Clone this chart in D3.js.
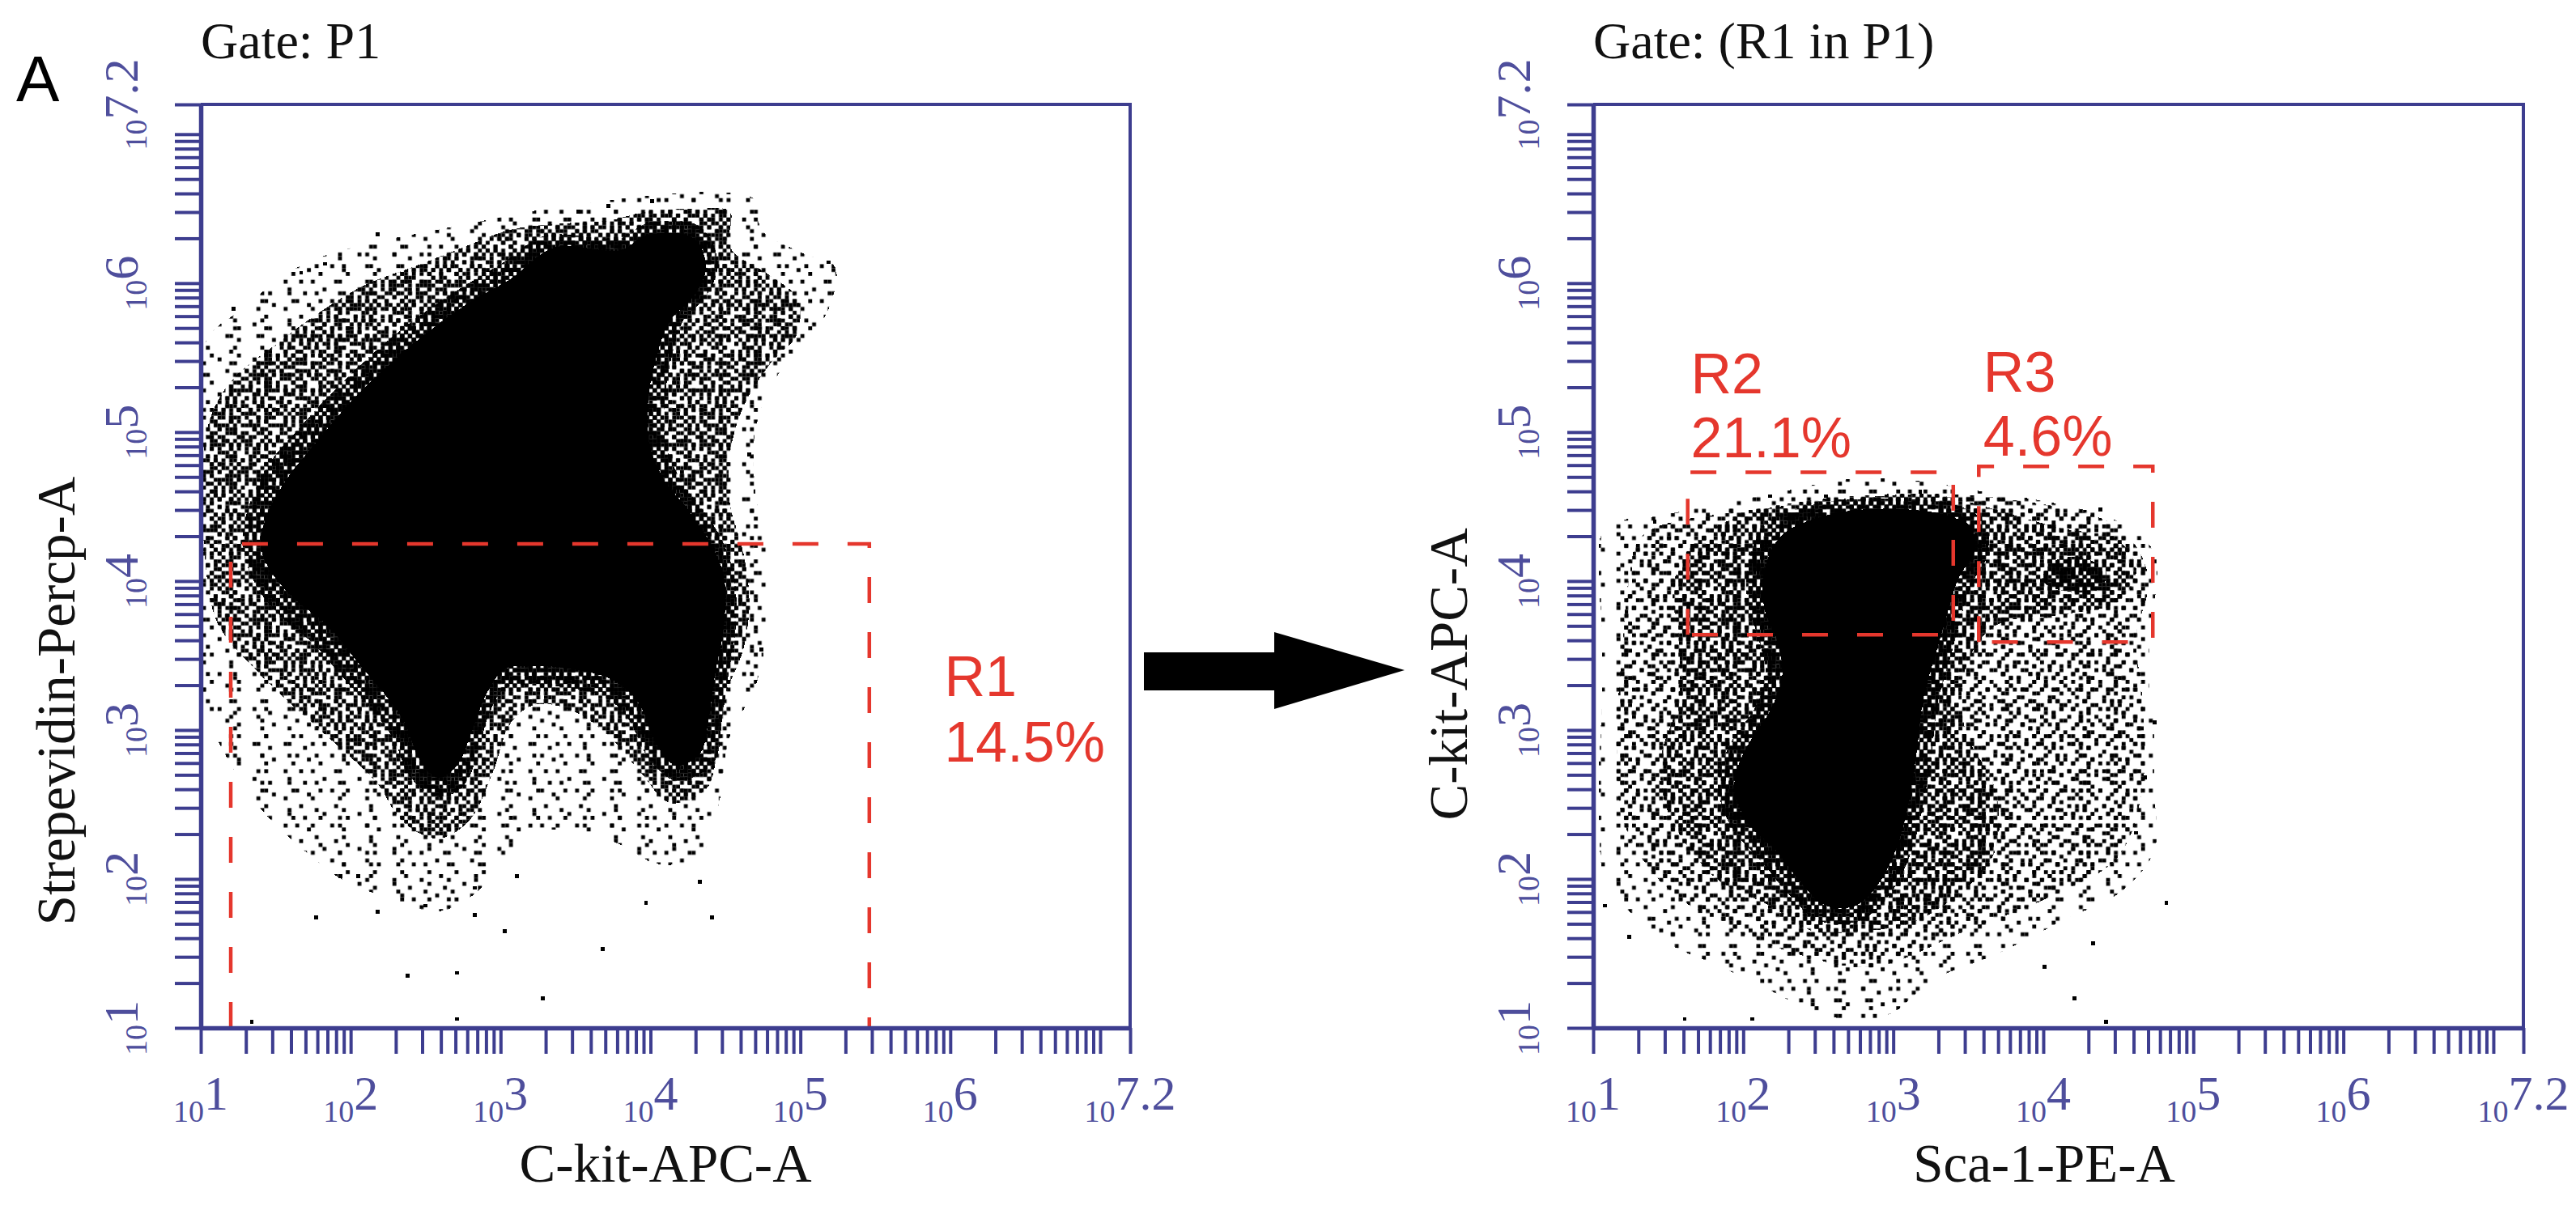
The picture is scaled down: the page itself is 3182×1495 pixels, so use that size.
<!DOCTYPE html>
<html>
<head>
<meta charset="utf-8">
<script src="https://cdn.jsdelivr.net/npm/d3@7"></script>
<style>
  body { margin: 0; background: #fff; }
  svg { display: block; }
</style>
</head>
<body>
<svg id="fig" width="3182" height="1495"></svg>
<script>
// all values are log10 of the fluorescence channel (axis runs 10^1 .. 10^7.2)
const axisDomain = [1, 7.2];
const decadeExps = [1, 2, 3, 4, 5, 6, 7.2];
const decadeText = ["1", "2", "3", "4", "5", "6", "7.2"];

// --- panel 1: C-kit-APC-A vs Strepevidin-Percp-A (gate P1) ---
const kitStrepSparse = [[1.02,5.58],[1.28,5.83],[1.65,6.11],[2.01,6.24],[2.38,6.32],[2.79,6.40],[3.19,6.48],[3.60,6.54],[4.01,6.59],[4.45,6.61],[4.70,6.56],[4.74,6.36],[5.02,6.20],[5.23,6.11],[5.19,5.83],[5.02,5.58],[4.82,5.34],[4.70,5.01],[4.70,4.60],[4.78,4.19],[4.78,3.70],[4.70,3.29],[4.53,2.96],[4.45,2.47],[4.33,2.15],[4.05,2.10],[3.80,2.23],[3.56,2.31],[3.23,2.31],[2.99,2.10],[2.83,1.90],[2.58,1.78],[2.30,1.86],[1.97,1.98],[1.69,2.19],[1.40,2.47],[1.16,2.84],[1.02,3.21]];
const kitStrepMedium = [[1.04,5.01],[1.20,5.34],[1.49,5.58],[1.77,5.79],[2.10,5.99],[2.42,6.11],[2.75,6.24],[3.07,6.36],[3.40,6.40],[3.72,6.42],[3.97,6.48],[4.29,6.50],[4.53,6.48],[4.53,6.24],[4.80,6.05],[4.98,5.90],[4.98,5.66],[4.80,5.46],[4.62,5.17],[4.53,4.85],[4.53,4.52],[4.62,4.19],[4.66,3.86],[4.62,3.54],[4.49,3.21],[4.45,2.88],[4.37,2.60],[4.13,2.51],[3.93,2.72],[3.72,2.96],[3.48,3.13],[3.23,3.17],[3.07,3.05],[2.95,2.72],[2.79,2.39],[2.58,2.27],[2.34,2.39],[2.18,2.64],[1.93,2.88],[1.65,3.13],[1.36,3.41],[1.12,3.70],[1.04,4.03]];
const kitStrepDense = [[3.30,6.32],[3.80,6.30],[3.97,6.40],[4.33,6.38],[4.45,6.13],[4.37,5.91],[4.22,5.75],[4.15,5.54],[4.10,5.26],[4.10,4.93],[4.20,4.68],[4.35,4.48],[4.48,4.27],[4.56,4.03],[4.57,3.70],[4.52,3.37],[4.48,3.09],[4.42,2.78],[4.17,2.66],[3.98,2.82],[3.85,3.08],[3.70,3.22],[3.48,3.28],[3.23,3.30],[3.03,3.28],[2.92,3.10],[2.85,2.85],[2.75,2.62],[2.58,2.55],[2.40,2.68],[2.28,2.95],[2.13,3.15],[1.95,3.35],[1.75,3.58],[1.55,3.75],[1.38,3.95],[1.28,4.23],[1.32,4.50],[1.45,4.78],[1.66,5.03],[1.88,5.27],[2.14,5.52],[2.43,5.76],[2.74,5.97],[3.02,6.14]];
const kitStrepSolid = [[3.36,6.24],[3.80,6.22],[3.97,6.32],[4.29,6.30],[4.37,6.11],[4.29,5.91],[4.13,5.75],[4.05,5.54],[3.99,5.26],[3.99,4.93],[4.09,4.68],[4.25,4.48],[4.39,4.27],[4.49,4.03],[4.49,3.70],[4.43,3.37],[4.39,3.09],[4.33,2.84],[4.17,2.76],[4.03,2.92],[3.93,3.17],[3.76,3.33],[3.48,3.41],[3.23,3.43],[3.03,3.41],[2.91,3.25],[2.81,3.00],[2.71,2.76],[2.58,2.68],[2.46,2.80],[2.36,3.05],[2.22,3.25],[2.05,3.45],[1.85,3.70],[1.65,3.86],[1.49,4.03],[1.40,4.23],[1.44,4.44],[1.57,4.68],[1.77,4.93],[1.97,5.17],[2.22,5.42],[2.50,5.66],[2.79,5.87],[3.07,6.03]];
const kitStrepSingles = [[2.18,6.33],[3.72,6.52],[4.01,6.55],[3.52,6.48],[5.19,6.14],[4.66,4.85],[4.74,3.54],[1.77,1.74],[1.93,2.02],[2.05,2.02],[2.38,1.35],[2.71,1.37],[2.71,1.06],[3.28,1.20],[3.03,1.65],[2.83,1.76],[3.68,1.53],[4.41,1.74],[3.97,1.84],[4.33,1.98],[1.34,1.04],[1.67,6.07],[1.83,6.13],[1.22,5.83],[3.11,2.02],[2.50,1.82],[2.18,1.78],[2.83,1.94]];
const gateR1 = [1.20, 5.46, 1.00, 4.25];   // x from, x to, y from, y to

// --- panel 2: Sca-1-PE-A vs C-kit-APC-A (R1 in P1) ---
const scaKitSparse = [[1.08,4.36],[1.45,4.44],[1.85,4.52],[2.26,4.60],[2.67,4.68],[3.11,4.68],[3.60,4.60],[4.09,4.52],[4.50,4.40],[4.74,4.19],[4.74,3.82],[4.70,3.41],[4.74,3.00],[4.74,2.60],[4.74,2.19],[4.50,1.90],[4.17,1.74],[3.68,1.49],[3.28,1.33],[2.95,1.08],[2.55,1.08],[2.18,1.25],[1.85,1.41],[1.49,1.57],[1.24,1.78],[1.08,1.98],[1.04,2.39],[1.04,2.80],[1.06,3.21],[1.06,3.62],[1.04,4.03]];
const scaKitLight = [[1.33,4.31],[2.06,4.48],[2.87,4.58],[3.68,4.56],[4.50,4.36],[4.70,4.03],[4.62,3.62],[4.66,3.21],[4.66,2.60],[4.50,2.15],[4.09,1.90],[3.48,1.65],[2.87,1.41],[2.38,1.49],[1.85,1.70],[1.45,1.98],[1.20,2.39],[1.16,3.00],[1.20,3.62],[1.24,4.03]];
const scaKitMedium = [[1.65,4.23],[1.98,4.44],[2.38,4.52],[2.79,4.56],[3.28,4.58],[3.68,4.48],[4.09,4.36],[4.50,4.27],[4.62,4.07],[4.50,3.86],[4.17,3.78],[3.68,3.70],[3.48,3.41],[3.48,3.00],[3.68,2.60],[3.68,2.19],[3.44,1.90],[3.11,1.70],[2.79,1.65],[2.46,1.65],[2.18,1.82],[1.85,1.98],[1.65,2.19],[1.49,2.47],[1.45,2.80],[1.57,3.21],[1.57,3.62],[1.53,3.95]];
const scaKitDenseR3 = [[4.05,4.12],[4.25,4.16],[4.42,4.06],[4.38,3.95],[4.15,3.93],[4.00,4.00]];
const scaKitDenseCore = [[2.15,4.38],[2.50,4.52],[3.11,4.55],[3.45,4.50],[3.62,4.38],[3.62,4.15],[3.52,3.98],[3.45,3.75],[3.38,3.48],[3.30,3.20],[3.26,2.88],[3.21,2.55],[3.12,2.18],[2.98,1.90],[2.78,1.72],[2.50,1.72],[2.30,1.90],[2.12,2.12],[1.92,2.35],[1.83,2.64],[1.92,2.92],[2.08,3.15],[2.15,3.37],[2.10,3.62],[2.03,3.85],[2.03,4.10]];
const scaKitSolid = [[2.26,4.31],[2.55,4.44],[2.79,4.48],[3.11,4.48],[3.36,4.44],[3.52,4.36],[3.54,4.19],[3.44,4.03],[3.36,3.78],[3.28,3.50],[3.20,3.21],[3.16,2.88],[3.11,2.55],[3.03,2.23],[2.91,1.98],[2.75,1.82],[2.55,1.82],[2.38,1.98],[2.22,2.19],[2.02,2.39],[1.94,2.64],[2.02,2.88],[2.18,3.13],[2.26,3.37],[2.22,3.62],[2.14,3.82],[2.14,4.07]];
const scaKitSingles = [[4.82,1.84],[4.42,1.04],[1.61,1.06],[1.24,1.61],[1.08,1.82],[4.21,1.20],[2.06,1.06],[4.33,1.57],[4.01,1.41],[1.41,4.40],[2.18,4.57],[3.18,4.60],[2.55,4.57],[4.38,4.48],[4.74,3.05],[4.68,2.68],[4.62,2.31]];
const gateR2 = [1.63, 3.40, 3.64, 4.73];
const gateR3 = [3.57, 4.73, 3.59, 4.77];

const gateNames = ["R1", "R2", "R3"];
const gatePercents = ["14.5%", "21.1%", "4.6%"];
// where each gate caption sits: [x, first line y, second line y] in axis units
const gateCaptionAt = [[5.96, 3.23, 2.79], [1.65, 5.26, 4.83], [3.60, 5.27, 4.84]];

// ---------------- drawing ----------------
const TOP = 129, BOTTOM = 1270;
const AXIS = "#3d3d8f", AXIS_TEXT = "#4e4e9c", RED = "#e5372d";
const SERIF = "'Liberation Serif', 'Times New Roman', serif";
const SANS = "'Liberation Sans', Arial, sans-serif";
const CELL = 4.8;   // one display channel of the cytometer plot

const svg = d3.select("#fig");
const defs = svg.append("defs");

// speckle fills: two dither tiles of different period, layered so the repeat is hard to see
const tileA = [23,7,41,15,33,2,28, 36,12,30,45,20,39,10, 4,47,18,1,26,14,44, 29,21,38,11,48,6,34, 9,43,3,32,16,40,19, 46,25,13,42,0,27,37, 17,35,31,8,24,22,5];
const tileB = [40,12,67,25,79,3,52,31,60, 71,20,48,6,35,63,16,75,9, 28,56,1,74,44,22,69,41,55, 14,80,33,59,11,50,4,27,66, 61,37,19,26,68,30,77,45,18, 5,72,46,78,2,57,13,64,34, 49,24,62,10,39,21,42,0,73, 17,65,8,53,70,15,58,29,47, 76,32,43,23,38,54,7,51,36];
const levels = { sparse: [3, 5], light: [8, 13], medium: [15, 25], dense: [25, 42] };

function addPattern(id, thr, n, count) {
  const p = defs.append("pattern")
    .attr("id", id)
    .attr("patternUnits", "userSpaceOnUse")
    .attr("width", n * CELL)
    .attr("height", n * CELL);
  p.selectAll("rect")
    .data(thr.map((t, i) => ({ t, i })).filter(d => d.t < count))
    .enter().append("rect")
    .attr("x", d => (d.i % n) * CELL)
    .attr("y", d => Math.floor(d.i / n) * CELL)
    .attr("width", CELL)
    .attr("height", CELL)
    .attr("fill", "#000");
}
Object.entries(levels).forEach(([name, [ca, cb]]) => {
  addPattern("pa-" + name, tileA, 7, ca);
  addPattern("pb-" + name, tileB, 9, cb);
});

// minor/major ticks of a log axis
const tickVals = [];
for (let n = 1; n <= 7; n++) {
  for (let k = 1; k <= 9; k++) {
    const v = k * Math.pow(10, n);
    if (v <= Math.pow(10, 7.2)) tickVals.push(v);
  }
}
tickVals.push(Math.pow(10, 7.2));

function drawPanel(p) {
  const x = d3.scaleLog().domain(axisDomain.map(e => Math.pow(10, e))).range([p.x0, p.x1]);
  const y = d3.scaleLog().domain(axisDomain.map(e => Math.pow(10, e))).range([BOTTOM, TOP]);
  const X = e => x(Math.pow(10, e));
  const Y = e => y(Math.pow(10, e));

  const g = svg.append("g");
  g.append("clipPath").attr("id", p.id + "-clip")
    .append("rect").attr("x", p.x0).attr("y", TOP).attr("width", p.x1 - p.x0).attr("height", BOTTOM - TOP);

  const dots = g.append("g").attr("clip-path", `url(#${p.id}-clip)`).attr("shape-rendering", "crispEdges");
  const outline = d3.line().x(d => X(d[0])).y(d => Y(d[1])).curve(d3.curveCatmullRomClosed.alpha(0.5));

  p.layers.forEach(([level, poly]) => {
    if (level === "solid") {
      dots.append("path").attr("d", outline(poly)).attr("fill", "#000");
    } else {
      dots.append("path").attr("d", outline(poly)).attr("fill", `url(#pa-${level})`);
      dots.append("path").attr("d", outline(poly)).attr("fill", `url(#pb-${level})`);
    }
  });

  dots.selectAll("rect.single")
    .data(p.singles)
    .enter().append("rect")
    .attr("class", "single")
    .attr("x", d => X(d[0]) - CELL / 2)
    .attr("y", d => Y(d[1]) - CELL / 2)
    .attr("width", CELL)
    .attr("height", CELL)
    .attr("fill", "#000");

  // gates
  p.gates.forEach(gt => {
    const [gx0, gx1, gy0, gy1, closed] = gt;
    const pts = closed
      ? [[gx0, gy0], [gx0, gy1], [gx1, gy1], [gx1, gy0], [gx0, gy0]]
      : [[gx0, gy0], [gx0, gy1], [gx1, gy1], [gx1, gy0]];
    g.append("path")
      .attr("d", d3.line().x(d => X(d[0])).y(d => Y(d[1]))(pts))
      .attr("fill", "none")
      .attr("stroke", RED)
      .attr("stroke-width", 4.5)
      .attr("stroke-dasharray", "32 36");
  });

  p.captions.forEach(i => {
    const c = gateCaptionAt[i];
    const t = g.append("g").attr("font-family", SANS).attr("font-size", 70).attr("fill", RED);
    t.append("text").attr("x", X(c[0])).attr("y", Y(c[1])).text(gateNames[i]);
    t.append("text").attr("x", X(c[0])).attr("y", Y(c[2])).text(gatePercents[i]);
  });

  // frame
  g.append("path")
    .attr("d", `M${p.x0},${TOP}H${p.x1}V${BOTTOM}`)
    .attr("fill", "none").attr("stroke", AXIS).attr("stroke-width", 4);

  // axes
  const xa = g.append("g").attr("transform", `translate(0,${BOTTOM})`)
    .call(d3.axisBottom(x).tickValues(tickVals).tickSize(32).tickSizeOuter(0).tickFormat(""));
  const ya = g.append("g").attr("transform", `translate(${p.x0},0)`)
    .call(d3.axisLeft(y).tickValues(tickVals).tickSize(32).tickSizeOuter(0).tickFormat(""));
  [xa, ya].forEach(a => {
    a.select(".domain").attr("stroke", AXIS).attr("stroke-width", 5.5);
    a.selectAll(".tick line").attr("stroke", AXIS).attr("stroke-width", 4);
    a.selectAll(".tick text").remove();
  });

  // decade labels  10^n
  const xl = g.append("g").attr("font-family", SERIF).attr("fill", AXIS_TEXT);
  decadeExps.forEach((e, i) => {
    const t = xl.append("text")
      .attr("x", X(e)).attr("y", BOTTOM + 101)
      .attr("text-anchor", "middle");
    t.append("tspan").attr("font-size", 38).attr("dy", 15).text("10");
    t.append("tspan").attr("font-size", 60).attr("dy", -15).text(decadeText[i]);
  });
  decadeExps.forEach((e, i) => {
    const t = xl.append("text")
      .attr("transform", `translate(${p.x0 - 78},${Y(e)}) rotate(-90)`)
      .attr("text-anchor", "middle");
    t.append("tspan").attr("font-size", 38).attr("dy", 11).text("10");
    t.append("tspan").attr("font-size", 60).attr("dy", -11).text(decadeText[i]);
  });

  // titles
  g.append("text")
    .attr("x", p.x0).attr("y", 72)
    .attr("font-family", SERIF).attr("font-size", 64).attr("fill", "#111")
    .text(p.title);
  g.append("text")
    .attr("x", p.xTitleX).attr("y", 1460)
    .attr("text-anchor", "middle")
    .attr("font-family", SERIF).attr("font-size", 67).attr("fill", "#111")
    .text(p.xTitle);
  g.append("text")
    .attr("transform", `translate(${p.x0 - 156},${p.yTitleY}) rotate(-90)`)
    .attr("text-anchor", "middle")
    .attr("font-family", SERIF).attr("font-size", 67).attr("fill", "#111")
    .text(p.yTitle);
}

drawPanel({
  id: "p1", x0: 248, x1: 1396,
  layers: [["sparse", kitStrepSparse], ["medium", kitStrepMedium],
           ["dense", kitStrepDense], ["solid", kitStrepSolid]],
  singles: kitStrepSingles,
  gates: [[...gateR1, false]],
  captions: [0],
  title: "Gate: P1",
  xTitle: "C-kit-APC-A", xTitleX: 822,
  yTitle: "Strepevidin-Percp-A", yTitleY: 866
});

drawPanel({
  id: "p2", x0: 1968, x1: 3117,
  layers: [["sparse", scaKitSparse], ["light", scaKitLight], ["medium", scaKitMedium],
           ["dense", scaKitDenseR3], ["dense", scaKitDenseCore], ["solid", scaKitSolid]],
  singles: scaKitSingles,
  gates: [[...gateR2, true], [...gateR3, true]],
  captions: [1, 2],
  title: "Gate: (R1 in P1)",
  xTitle: "Sca-1-PE-A", xTitleX: 2525,
  yTitle: "C-kit-APC-A", yTitleY: 833
});

// panel letter and the arrow between the plots
svg.append("text")
  .attr("x", 20).attr("y", 125)
  .attr("font-family", SANS).attr("font-size", 80).attr("fill", "#000")
  .text("A");

svg.append("path")
  .attr("d", "M1413,806H1574V781L1735,828L1574,876V853H1413Z")
  .attr("fill", "#000");
</script>
</body>
</html>
